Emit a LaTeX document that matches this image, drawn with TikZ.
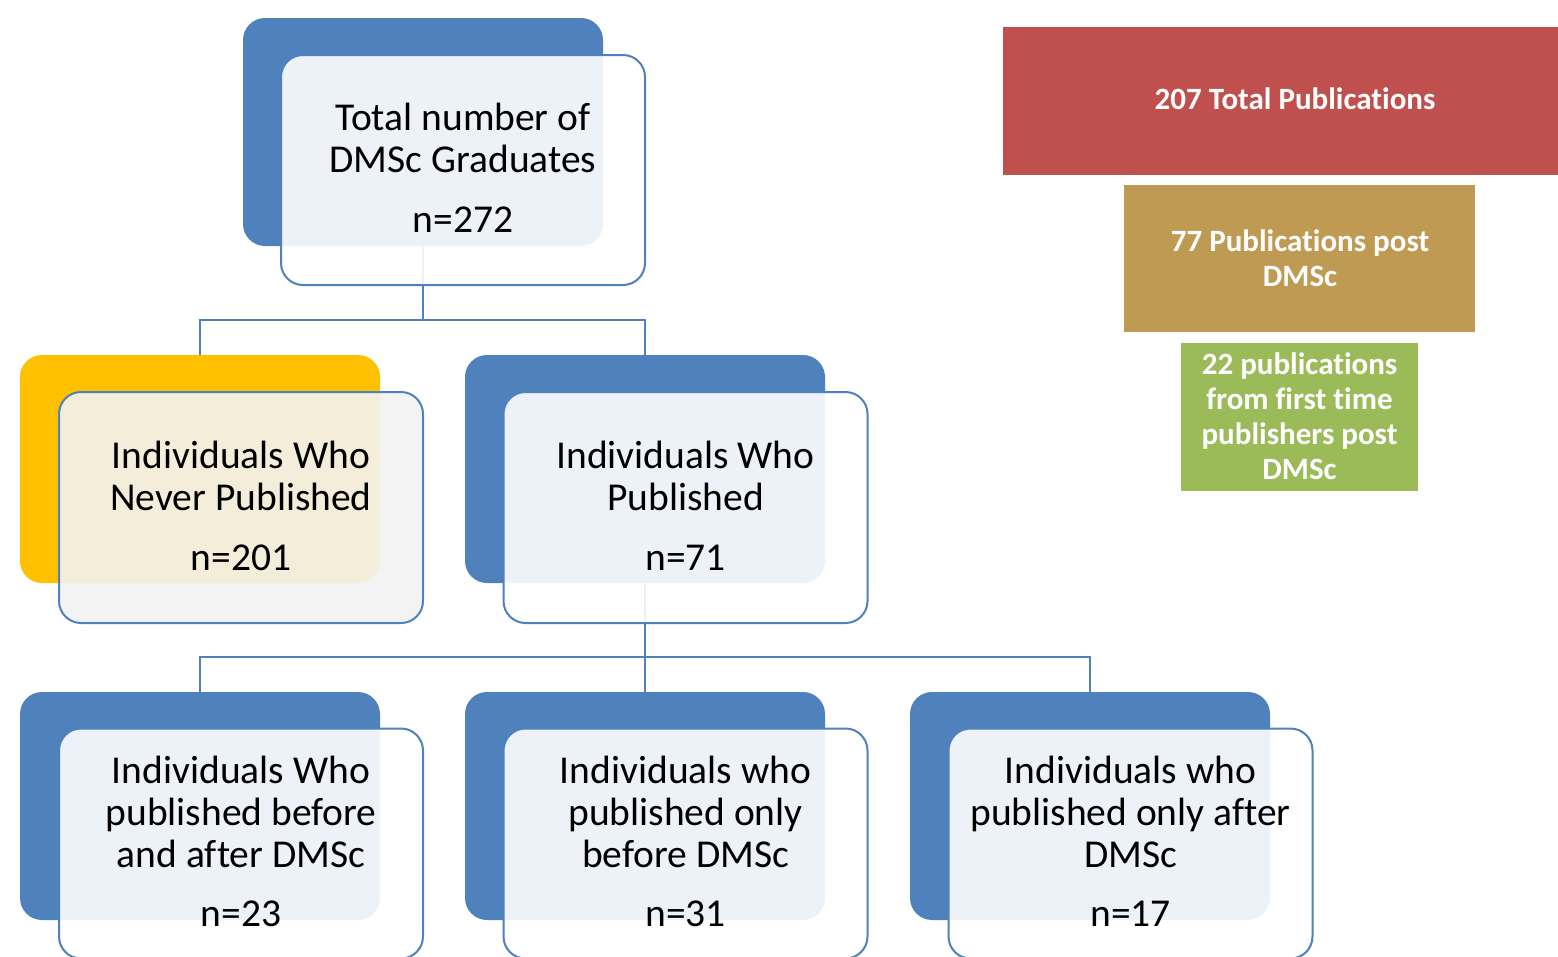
\documentclass[tikz,border=0pt]{standalone}
\usepackage{fontspec}
\setmainfont[RawFeature={-liga;-clig}]{Carlito}
\definecolor{cblue}{HTML}{4F81BD}
\definecolor{cyellow}{HTML}{FFC000}
\definecolor{cred}{HTML}{C0504D}
\definecolor{ctan}{HTML}{BF9A52}
\definecolor{cgreen}{HTML}{9BBB59}
\definecolor{cgray}{HTML}{F2F2F2}
\tikzset{
  backbox/.style={fill=cblue, draw=none, rounded corners=22pt, minimum width=360pt, minimum height=228pt, inner sep=0pt},
  frontbox/.style={fill=white, fill opacity=0.9, draw=cblue, line width=2pt, rounded corners=22pt,
    minimum width=364pt, inner sep=0pt},
  boxtext/.style={inner sep=0pt, align=center, font=\fontsize{39.5}{42}\selectfont},
  conn/.style={draw=cblue, line width=2pt},
  pubbox/.style={draw=none, inner sep=0pt, text=white, align=center, font=\fontsize{31}{35}\selectfont\bfseries},
}
\begin{document}
\begin{tikzpicture}[x=1pt,y=-1pt]
\useasboundingbox (0,0) rectangle (1558,956);
\clip (0,0) rectangle (1558,956);
\fill[white] (0,0) rectangle (1558,956);

% back boxes
\node[backbox] (tb) at (423,132) {};
\node[backbox, fill=cyellow] (l2a) at (200,469) {};
\node[backbox] (l2b) at (645,469) {};
\node[backbox] (l3a) at (200,806) {};
\node[backbox] (l3b) at (645,806) {};
\node[backbox] (l3c) at (1090,806) {};

% connectors
\draw[conn] (tb.south) -- ++(0,74) -| (l2a.north);
\draw[conn] (tb.south) -- ++(0,74) -| (l2b.north);
\draw[conn] (l2b.south) -- ++(0,74) -| (l3a.north);
\draw[conn] (l2b.south) -- (l3b.north);
\draw[conn] (l2b.south) -- ++(0,74) -| (l3c.north);

% front boxes
\node[frontbox, minimum height=230pt] (tf) at (463,170) {};
\node[frontbox, fill=cgray, minimum height=231pt] (l2af) at (241,507.5) {};
\node[frontbox, minimum height=231pt] (l2bf) at (685.5,507.5) {};
\node[frontbox, minimum height=230pt] (l3af) at (241,843.5) {};
\node[frontbox, minimum height=230pt] (l3bf) at (685.5,843.5) {};
\node[frontbox, minimum height=230pt] (l3cf) at (1130.5,843.5) {};

% texts
\node[boxtext] (tft) at ([yshift=2pt]tf.center) {Total number of\\DMSc Graduates\\[18pt]n=272};
\node[boxtext] (l2aft) at ([yshift=2pt]l2af.center) {Individuals Who\\Never Published\\[18pt]n=201};
\node[boxtext] (l2bft) at ([yshift=2pt]l2bf.center) {Individuals Who\\Published\\[18pt]n=71};
\node[boxtext] (l3aft) at ([yshift=2pt]l3af.center) {Individuals Who\\published before\\and after DMSc\\[17pt]n=23};
\node[boxtext] (l3bft) at ([yshift=2pt]l3bf.center) {Individuals who\\published only\\before DMSc\\[17pt]n=31};
\node[boxtext] (l3cft) at ([yshift=2pt]l3cf.center) {Individuals who\\published only after\\DMSc\\[17pt]n=17};

% publication boxes
\fill[cred] (1003,27) rectangle (1590,175);
\node[pubbox] (p1) at (1295,99) {207 Total Publications};
\fill[ctan] (1124,185) rectangle (1475,332);
\node[pubbox] (p2) at (1300,258) {77 Publications post\\DMSc};
\fill[cgreen] (1181,343) rectangle (1418,491);
\node[pubbox] (p3) at (1299.5,416.5) {22 publications\\from first time\\publishers post\\DMSc};
\end{tikzpicture}
\end{document}
